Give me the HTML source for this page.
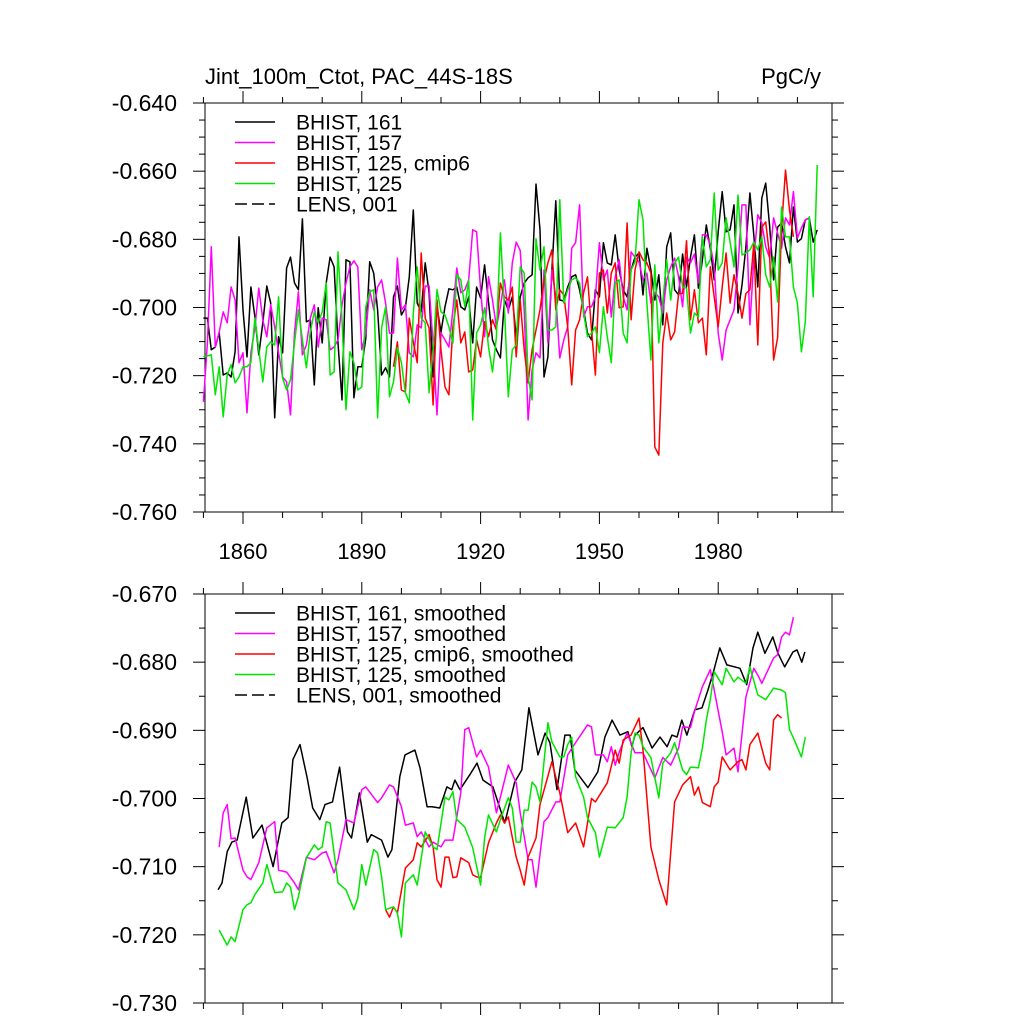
<!DOCTYPE html>
<html><head><meta charset="utf-8"><style>
html,body{margin:0;padding:0;background:#fff;}
svg text{font-family:"Liberation Sans",sans-serif;}
</style></head><body>
<svg id="chart" width="1024" height="1024" viewBox="0 0 1024 1024" xmlns="http://www.w3.org/2000/svg">
<rect width="1024" height="1024" fill="#fff"/>
<text x="205" y="84" font-size="22">Jint_100m_Ctot, PAC_44S-18S</text>
<text x="821" y="84" font-size="22" text-anchor="end">PgC/y</text>
<g id="top"></g>
<g id="bot"></g>
</svg>
<script>
// ---------- data ----------
const topYTicks = [-0.640,-0.660,-0.680,-0.700,-0.720,-0.740,-0.760];
const topYLabels = ["-0.640","-0.660","-0.680","-0.700","-0.720","-0.740","-0.760"];
const botYTicks = [-0.670,-0.680,-0.690,-0.700,-0.710,-0.720,-0.730];
const botYLabels = ["-0.670","-0.680","-0.690","-0.700","-0.710","-0.720","-0.730"];
const xTicks = [1860,1890,1920,1950,1980];
const xLabels = ["1860","1890","1920","1950","1980"];

const blackTopStart = 1850;
const blackTop = [-0.7031,-0.7031,-0.7124,-0.7116,-0.7074,-0.7198,-0.7192,-0.7204,-0.7130,-0.6793,-0.7007,-0.7145,-0.6940,-0.7028,-0.7139,-0.7045,-0.6937,-0.6987,-0.7324,-0.7086,-0.7133,-0.6884,-0.6852,-0.6928,-0.6948,-0.6740,-0.7042,-0.7036,-0.7227,-0.7001,-0.7104,-0.6928,-0.6852,-0.6881,-0.7104,-0.7271,-0.6860,-0.6866,-0.7265,-0.7174,-0.7174,
-0.7090,-0.6866,-0.6899,-0.7007,-0.7198,-0.7177,-0.7204,-0.6969,-0.6937,-0.7022,-0.7001,-0.6910,-0.6714,-0.6987,-0.7013,-0.6869,-0.6957,-0.7204,-0.6998,-0.7072,-0.6998,-0.6945,-0.6948,-0.6940,-0.6998,-0.7007,-0.6969,-0.7104,-0.6940,-0.6972,-0.6875,-0.6984,-0.7095,-0.7124,-0.7148,-0.6978,-0.7007,-0.6969,-0.7086,
-0.6969,-0.6928,-0.6913,-0.6904,-0.6638,-0.6772,-0.7204,-0.7145,-0.6890,-0.6687,-0.6978,-0.6981,-0.6940,-0.6910,-0.6904,-0.6948,-0.7007,-0.7075,-0.7095,-0.6948,-0.6969,-0.6810,-0.6869,-0.6875,-0.6787,-0.6890,-0.6948,-0.6969,-0.6890,-0.6852,-0.6840,-0.6963,-0.6826,-0.6890,-0.6978,-0.6904,-0.7051,-0.6822,-0.6781,-0.6948,
-0.6963,-0.6843,-0.6940,-0.6852,-0.6787,-0.6943,-0.6860,-0.6758,-0.6826,-0.6919,-0.6778,-0.6660,-0.6778,-0.6772,-0.6699,-0.7016,-0.6934,-0.6822,-0.6664,-0.6787,-0.6940,-0.6679,-0.6635,-0.6764,-0.6919,-0.6764,-0.6752,-0.6822,-0.6869,-0.6705,-0.6808,-0.6798,-0.6743,-0.6737,-0.6808,-0.6772];

const magentaTopStart = 1850;
const magentaTop = [-0.7277,-0.7104,-0.6822,-0.7116,-0.7072,-0.7013,-0.7045,-0.6940,-0.6978,-0.7162,-0.7133,-0.7309,-0.7133,-0.7060,-0.6943,-0.7036,-0.7086,-0.6992,-0.7057,-0.7133,-0.7204,-0.7218,-0.7315,-0.7074,-0.6954,-0.7139,-0.7110,-0.7031,-0.6992,-0.7116,-0.7031,-0.7036,-0.7124,-0.7116,-0.7095,-0.6992,-0.6928,-0.6881,-0.6863,-0.6881,
-0.7124,-0.7075,-0.6948,-0.7007,-0.6940,-0.6919,-0.6987,-0.7075,-0.7075,-0.6855,-0.7007,-0.6992,-0.7133,-0.7145,-0.7051,-0.7060,-0.6937,-0.6937,-0.7110,-0.7315,-0.7075,-0.7095,-0.7116,-0.7007,-0.6884,-0.6957,-0.6948,-0.6919,-0.6772,-0.6778,-0.6948,-0.7086,-0.6910,-0.6978,-0.7057,-0.6998,-0.6919,-0.7016,-0.6869,
-0.6808,-0.6833,-0.7007,-0.7330,-0.7183,-0.7133,-0.7148,-0.6890,-0.7104,-0.6890,-0.6969,-0.7148,-0.7095,-0.7057,-0.6826,-0.6810,-0.6699,-0.7028,-0.6998,-0.6998,-0.6969,-0.6810,-0.6919,-0.6890,-0.7028,-0.6910,-0.6860,-0.6969,-0.7007,-0.6837,-0.6852,-0.6866,-0.6919,-0.6899,-0.6987,-0.6957,-0.6969,-0.7016,-0.6919,-0.6881,
-0.6855,-0.6910,-0.6998,-0.6852,-0.6869,-0.6843,-0.6928,-0.6787,-0.6787,-0.6816,-0.6881,-0.7075,-0.7154,-0.7066,-0.7036,-0.7007,-0.6881,-0.6699,-0.6699,-0.7051,-0.6860,-0.6728,-0.6752,-0.6822,-0.6855,-0.6737,-0.6781,-0.6826,-0.6737,-0.6758,-0.6660,-0.6796,-0.6767,-0.6743,-0.6737];

const redTopStart = 1898;
const redTop = [-0.7174,-0.7101,-0.7242,-0.7248,-0.7031,-0.7101,-0.7162,-0.6840,-0.7031,-0.7060,-0.7286,-0.6978,-0.7124,-0.7233,-0.7256,-0.7057,-0.6978,-0.7104,-0.7072,-0.7189,-0.7183,-0.7095,-0.7145,-0.7042,-0.7086,-0.7036,-0.7066,-0.6928,-0.6969,-0.6978,-0.6940,
-0.7145,-0.6978,-0.7124,-0.7221,-0.7124,-0.7066,-0.7007,-0.6919,-0.6869,-0.6831,-0.7007,-0.6948,-0.6963,-0.7057,-0.7227,-0.7066,-0.7036,-0.6957,-0.6910,-0.7066,-0.7198,-0.6899,-0.6890,-0.7016,-0.6899,-0.6869,-0.7001,-0.6998,-0.6752,-0.7036,-0.6890,-0.6837,-0.6860,-0.6869,-0.6899,-0.7409,-0.7433,-0.7104,-0.7016,-0.7095,
-0.7072,-0.6959,-0.6959,-0.6804,-0.7036,-0.6948,-0.7045,-0.7031,-0.7139,-0.6881,-0.6969,-0.7057,-0.6940,-0.6840,-0.6987,-0.6904,-0.6959,-0.7031,-0.6959,-0.6948,-0.6811,-0.7110,-0.6764,-0.6749,-0.6852,-0.7154,-0.7089,-0.6764,-0.6597,-0.6714,-0.6793];

const greenTopStart = 1850;
const greenTop = [-0.7145,-0.7142,-0.7139,-0.7256,-0.7174,-0.7321,-0.7198,-0.7168,-0.7221,-0.7204,-0.7174,-0.7174,-0.7162,-0.7031,-0.7124,-0.7218,-0.7116,-0.7101,-0.7110,-0.6969,-0.7207,-0.7242,-0.7212,-0.7104,-0.7007,-0.7095,-0.7177,-0.7072,-0.7013,-0.7045,-0.7013,-0.6928,-0.7198,-0.7189,-0.6837,-0.7036,-0.7300,-0.7130,-0.7162,-0.7242,-0.7233,
-0.6998,-0.6954,-0.6948,-0.7324,-0.7060,-0.6998,-0.7262,-0.7218,-0.7118,-0.7162,-0.7250,-0.7280,-0.7016,-0.6881,-0.7031,-0.7045,-0.7250,-0.7124,-0.6948,-0.7013,-0.7022,-0.7057,-0.7104,-0.6904,-0.6919,-0.6998,-0.6919,-0.7330,-0.7075,-0.7051,-0.7001,-0.7116,-0.7189,-0.7086,-0.6781,-0.6998,-0.7262,-0.7124,
-0.7110,-0.6881,-0.6899,-0.7204,-0.7271,-0.6798,-0.6890,-0.6822,-0.7066,-0.7066,-0.7057,-0.6684,-0.6987,-0.6948,-0.6919,-0.6913,-0.6928,-0.7016,-0.7086,-0.7075,-0.7057,-0.7133,-0.6998,-0.7086,-0.7162,-0.6928,-0.6919,-0.7075,-0.7104,-0.6890,-0.6866,-0.6684,-0.6743,-0.6987,-0.7154,-0.6875,-0.7104,-0.6984,-0.6860,-0.6978,
-0.6869,-0.6852,-0.6940,-0.6943,-0.7075,-0.7016,-0.7028,-0.6793,-0.6881,-0.6860,-0.6664,-0.6890,-0.6869,-0.6737,-0.6808,-0.6881,-0.6670,-0.6846,-0.6840,-0.6831,-0.6808,-0.6831,-0.6793,-0.6904,-0.6940,-0.6852,-0.6984,-0.6705,-0.6793,-0.6793,-0.6940,-0.6987,-0.7130,-0.7042,-0.6734,-0.6969,-0.6582];

const blackBotYears = [1853.7,1854.7,1856,1857.2,1858.5,1860.8,1862.5,1864.8,1867.6,1869.8,1871.4,1872.6,1874.4,1876.2,1877.6,1879.4,1880.7,1882.6,1884.4,1886.4,1887.4,1889.4,1891.4,1892.4,1895,1896.6,1897.6,1899.6,1900.9,1903.4,1904.7,1906.5,1907.7,1909.7,1911.5,1912.7,1913.5,1914.8,1917.3,1919.1,1920.6,1923.1,1926.1,1928.6,1930.4,1932.2,1934.5,1936.3,1937.5,1939.3,1941.3,1942.6,1943.8,1947.1,1949.6,1951.4,1953.2,1955.2,1957.2,1958.2,1959,1961,1963.3,1965.3,1967.1,1968.3,1969.6,1970.8,1972.1,1974.1,1975.9,1977.4,1978.7,1980.4,1982.2,1985.5,1987.2,1988.8,1990,1991.8,1993.8,1995.1,1996.8,1998.9,1999.9,2001.1,2001.9];
const blackBot = [-0.7134,-0.7124,-0.7078,-0.7064,-0.7061,-0.6998,-0.7058,-0.7039,-0.7100,-0.7036,-0.7028,-0.6943,-0.6921,-0.6970,-0.7014,-0.7031,-0.7009,-0.7005,-0.6954,-0.7049,-0.7058,-0.6992,-0.7064,-0.7053,-0.7061,-0.7086,-0.7075,-0.6968,-0.6936,-0.6929,-0.6955,-0.7012,-0.7012,-0.7014,-0.6983,-0.6987,-0.6973,-0.6987,-0.6965,-0.6948,-0.6973,-0.6983,-0.7036,-0.6976,-0.6958,-0.6867,-0.6936,-0.6904,-0.6918,-0.6987,-0.6907,-0.6907,-0.6958,-0.6984,-0.6961,-0.6910,-0.6885,-0.6907,-0.6902,-0.6924,-0.6907,-0.6896,-0.6926,-0.6910,-0.6924,-0.6907,-0.6910,-0.6885,-0.6907,-0.6870,-0.6867,-0.6841,-0.6816,-0.6779,-0.6804,-0.6809,-0.6833,-0.6779,-0.6756,-0.6787,-0.6763,-0.6787,-0.6807,-0.6785,-0.6782,-0.6800,-0.6785];

const magentaBotYears = [1854,1855,1856,1857,1858,1860,1861,1862,1864,1866,1868,1869,1871,1873,1874,1876,1878,1880,1881,1883,1884,1886,1888,1890,1891,1894,1895,1897,1898,1900,1901,1903,1904,1905,1907,1908,1910,1911,1913,1915,1916,1917,1919,1920,1922,1924,1925,1927,1929,1930,1932,1933,1934,1936,1937,1939,1940,1942,1944,1947,1948,1949,1951,1952,1953,1954,1955,1957,1959,1961,1964,1966,1968,1970,1971,1973,1974,1976,1978,1979,1981,1982,1984,1985,1987,1989,1990,1991,1994,1995,1996,1997,1998,1999];
const magentaBot = [-0.7071,-0.7021,-0.7009,-0.7059,-0.7058,-0.7105,-0.7115,-0.7119,-0.7094,-0.7043,-0.7034,-0.7105,-0.7108,-0.7124,-0.7134,-0.7086,-0.7090,-0.7080,-0.7078,-0.7109,-0.7090,-0.7031,-0.7036,-0.6987,-0.6983,-0.7006,-0.6999,-0.6980,-0.6983,-0.7012,-0.7039,-0.7036,-0.7056,-0.7049,-0.7071,-0.7064,-0.7071,-0.7061,-0.7061,-0.6992,-0.6899,-0.6896,-0.6939,-0.6929,-0.6954,-0.7021,-0.6998,-0.6951,-0.6977,-0.7021,-0.7090,-0.7090,-0.7130,-0.7034,-0.7028,-0.7005,-0.7005,-0.6936,-0.6918,-0.6892,-0.6895,-0.6936,-0.6936,-0.6946,-0.6924,-0.6951,-0.6932,-0.6904,-0.6933,-0.6933,-0.6970,-0.6940,-0.6951,-0.6926,-0.6895,-0.6896,-0.6873,-0.6836,-0.6811,-0.6841,-0.6902,-0.6936,-0.6926,-0.6961,-0.6851,-0.6809,-0.6819,-0.6831,-0.6794,-0.6789,-0.6763,-0.6756,-0.6760,-0.6734];

const redBotYears = [1896,1897,1898,1899,1901,1903,1904,1905,1907,1908,1909,1910,1911,1912,1913,1914,1915,1917,1918,1919,1920,1922,1924,1925,1926,1927,1929,1930,1931,1932,1934,1935,1938,1940,1942,1944,1946,1948,1949,1952,1954,1955,1956,1958,1960,1961,1963,1965,1967,1969,1971,1973,1974,1975,1976,1978,1979,1980,1981,1983,1985,1986,1987,1988,1990,1992,1993,1994,1995,1996];
const redBot = [-0.7163,-0.7174,-0.7159,-0.7168,-0.7102,-0.7090,-0.7065,-0.7071,-0.7053,-0.7071,-0.7119,-0.7130,-0.7086,-0.7086,-0.7116,-0.7115,-0.7087,-0.7094,-0.7112,-0.7115,-0.7116,-0.7065,-0.7036,-0.7024,-0.7036,-0.7027,-0.7086,-0.7105,-0.7127,-0.7086,-0.7058,-0.7009,-0.6946,-0.6992,-0.7050,-0.7036,-0.7071,-0.7000,-0.7005,-0.6977,-0.6929,-0.6948,-0.6914,-0.6907,-0.6882,-0.6929,-0.7071,-0.7119,-0.7156,-0.7005,-0.6980,-0.6968,-0.6995,-0.6983,-0.7006,-0.7012,-0.6983,-0.6976,-0.6939,-0.6958,-0.6946,-0.6943,-0.6958,-0.6921,-0.6904,-0.6948,-0.6958,-0.6885,-0.6877,-0.6882];

const greenBotYears = [1854,1856,1857,1858,1860,1861,1862,1863,1865,1866,1868,1870,1871,1872,1873,1874,1876,1878,1879,1880,1881,1882,1883,1884,1886,1888,1889,1890,1891,1893,1894,1895,1896,1898,1899,1900,1901,1903,1904,1906,1908,1909,1911,1912,1913,1914,1916,1918,1920,1921,1922,1924,1925,1927,1928,1929,1930,1931,1932,1933,1934,1935,1937,1938,1940,1941,1942,1943,1944,1946,1947,1949,1950,1951,1952,1954,1956,1957,1958,1959,1960,1961,1963,1965,1966,1968,1969,1971,1972,1973,1975,1976,1977,1978,1979,1981,1982,1984,1985,1987,1988,1990,1992,1994,1996,1997,1998,1999,2001,2002];
const greenBot = [-0.7193,-0.7215,-0.7203,-0.7210,-0.7163,-0.7156,-0.7153,-0.7141,-0.7124,-0.7097,-0.7138,-0.7137,-0.7124,-0.7130,-0.7163,-0.7144,-0.7087,-0.7068,-0.7075,-0.7071,-0.7034,-0.7036,-0.7080,-0.7124,-0.7134,-0.7163,-0.7146,-0.7097,-0.7127,-0.7075,-0.7080,-0.7115,-0.7163,-0.7159,-0.7168,-0.7203,-0.7124,-0.7112,-0.7127,-0.7049,-0.7071,-0.7075,-0.6998,-0.7002,-0.6990,-0.7031,-0.7042,-0.7072,-0.7127,-0.7058,-0.7024,-0.7049,-0.7031,-0.6999,-0.7014,-0.7064,-0.7064,-0.7017,-0.7017,-0.6976,-0.6983,-0.7005,-0.6889,-0.6917,-0.6939,-0.6939,-0.6921,-0.6910,-0.6968,-0.6998,-0.7028,-0.7050,-0.7086,-0.7064,-0.7042,-0.7043,-0.7028,-0.6998,-0.6933,-0.6904,-0.6907,-0.6924,-0.6940,-0.6999,-0.6948,-0.6933,-0.6918,-0.6958,-0.6965,-0.6954,-0.6955,-0.6926,-0.6885,-0.6855,-0.6814,-0.6833,-0.6809,-0.6829,-0.6822,-0.6831,-0.6807,-0.6848,-0.6855,-0.6838,-0.6841,-0.6845,-0.6899,-0.6911,-0.6939,-0.6910];

const topLegend = ["BHIST, 161","BHIST, 157","BHIST, 125, cmip6","BHIST, 125","LENS, 001"];
const botLegend = ["BHIST, 161, smoothed","BHIST, 157, smoothed","BHIST, 125, cmip6, smoothed","BHIST, 125, smoothed","LENS, 001, smoothed"];

// ---------- layout ----------
const NS = "http://www.w3.org/2000/svg";
const X0 = 205, X1 = 832;
const YEAR0 = 1850, PXYR = 3.96, XORIG = 203.4;
function xs(yr){ return XORIG + (yr - YEAR0) * PXYR; }
const panels = {
  top:{g:document.getElementById('top'), y0:103, y1:512, vmax:-0.640, vmin:-0.760},
  bot:{g:document.getElementById('bot'), y0:594, y1:1003, vmax:-0.670, vmin:-0.730}
};
function ys(p, v){ return p.y0 + (p.vmax - v) / (p.vmax - p.vmin) * (p.y1 - p.y0); }
function mk(tag, attrs, parent){
  const e = document.createElementNS(NS, tag);
  for (const k in attrs) e.setAttribute(k, attrs[k]);
  parent.appendChild(e); return e;
}
const colors = ["#000000","#ff00ff","#ff0000","#00e600","#000000"];

function axes(p, name, yTicks, yLabels, showX){
  const g = mk('g', {}, p.g);
  
  
  const frame = mk('rect', {x:X0, y:p.y0, width:X1-X0, height:p.y1-p.y0, fill:'none', stroke:'#000', 'stroke-width':1}, g);
  
  
  const step = 0.005;
  const n = Math.round((p.vmax - p.vmin) / step);
  for (let i = 0; i <= n; i++){
    const v = p.vmax - i * step;
    const y = ys(p, v);
    const major = yTicks.some(t => Math.abs(t - v) < 1e-6);
    const L = major ? 12 : 6;
    const t1 = mk('line', {x1:X0-L, x2:X0, y1:y, y2:y, stroke:'#000', 'stroke-width':1}, g);
    
    
    const t2 = mk('line', {x1:X1, x2:X1+L, y1:y, y2:y, stroke:'#000', 'stroke-width':1}, g);
    
    
  }
  yTicks.forEach((v, i) => {
    const t = mk('text', {x:177, y:ys(p, v) + 8, 'font-size':23, 'text-anchor':'end'}, g);
    t.textContent = yLabels[i];
    
    
  });
  for (let yr = 1850; yr <= 2000; yr += 10){
    const x = xs(yr);
    const major = xTicks.includes(yr);
    const L = major ? 12 : 6;
    const a = mk('line', {x1:x, x2:x, y1:p.y1, y2:p.y1+L, stroke:'#000', 'stroke-width':1}, g);
    
    
    const b = mk('line', {x1:x, x2:x, y1:p.y0-L, y2:p.y0, stroke:'#000', 'stroke-width':1}, g);
    
    
  }
  if (showX){
    xTicks.forEach((yr, i) => {
      const t = mk('text', {x:xs(yr), y:p.y1 + 47, 'font-size':22, 'text-anchor':'middle'}, g);
      t.textContent = xLabels[i];
      
      
    });
  }
}

function seqLine(p, start, vals, color, name){
  const pts = vals.map((v, i) => xs(start + i).toFixed(1) + ',' + ys(p, v).toFixed(1)).join(' ');
  const l = mk('polyline', {points:pts, fill:'none', stroke:color, 'stroke-width':1.5, 'stroke-linejoin':'round'}, p.g);
  
  
}
function xyLine(p, years, vals, color, name){
  const pts = vals.map((v, i) => xs(years[i]).toFixed(1) + ',' + ys(p, v).toFixed(1)).join(' ');
  const l = mk('polyline', {points:pts, fill:'none', stroke:color, 'stroke-width':1.5, 'stroke-linejoin':'round'}, p.g);
  
  
}
function legend(p, entries, name, ybase){
  entries.forEach((label, i) => {
    const y = ybase + i * 20.5;
    const g = mk('g', {}, p.g);
    
    
    const attrs = {x1:235, x2:275, y1:y, y2:y, stroke:colors[i], 'stroke-width':1.5};
    if (i === 4) attrs['stroke-dasharray'] = '12,5';
    mk('line', attrs, g);
    const t = mk('text', {x:296, y:y + 7.5, 'font-size':21}, g);
    t.textContent = label;
  });
}

const T = panels.top, B = panels.bot;
axes(T, 'top', topYTicks, topYLabels, true);
axes(B, 'bottom', botYTicks, botYLabels, false);

seqLine(T, blackTopStart, blackTop, colors[0], 'top-series-bhist-161');
seqLine(T, magentaTopStart, magentaTop, colors[1], 'top-series-bhist-157');
seqLine(T, redTopStart, redTop, colors[2], 'top-series-bhist-125-cmip6');
seqLine(T, greenTopStart, greenTop, colors[3], 'top-series-bhist-125');

xyLine(B, blackBotYears, blackBot, colors[0], 'bottom-series-bhist-161-smoothed');
xyLine(B, magentaBotYears, magentaBot, colors[1], 'bottom-series-bhist-157-smoothed');
xyLine(B, redBotYears, redBot, colors[2], 'bottom-series-bhist-125-cmip6-smoothed');
xyLine(B, greenBotYears, greenBot, colors[3], 'bottom-series-bhist-125-smoothed');

legend(T, topLegend, 'top', 122);
legend(B, botLegend, 'bottom', 613);
</script>
</body></html>
